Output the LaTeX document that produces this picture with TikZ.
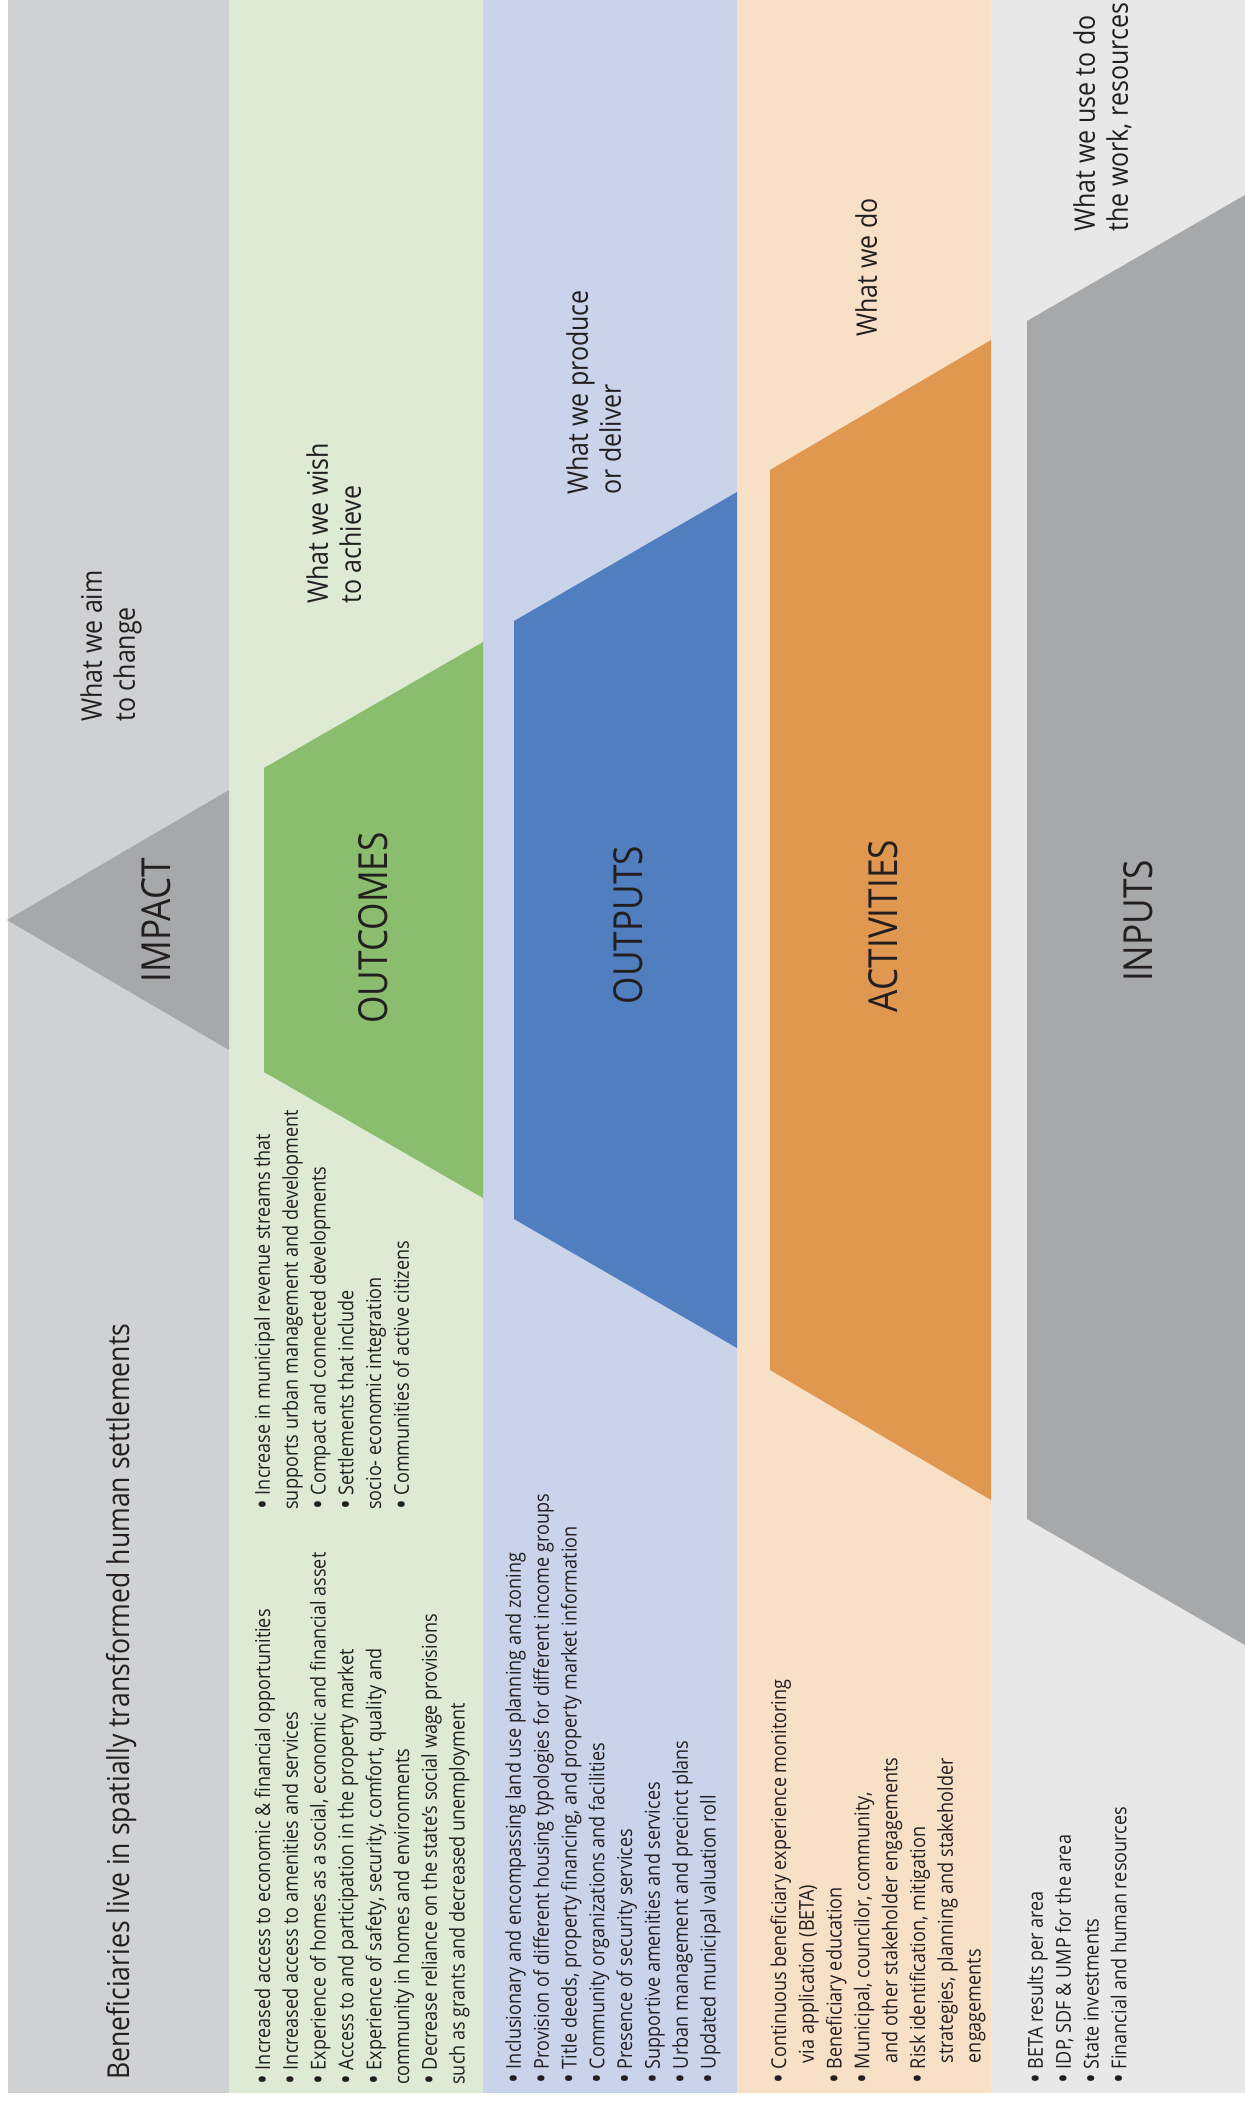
\documentclass[tikz,border=0pt]{standalone}
\usepackage{fontspec}
\setmainfont[FakeStretch=0.88]{Open Sans}

\definecolor{impactband}{HTML}{D0D1D3}
\definecolor{outcomeband}{HTML}{DEEAD4}
\definecolor{outputband}{HTML}{C9D4EB}
\definecolor{activityband}{HTML}{F7E0C6}
\definecolor{inputband}{HTML}{E8E8E8}
\definecolor{impactfill}{HTML}{A7A8AA}
\definecolor{outcomefill}{HTML}{8ABD6D}
\definecolor{outputfill}{HTML}{517EBF}
\definecolor{activityfill}{HTML}{E0974F}
\definecolor{inputfill}{HTML}{A7A8AA}
\definecolor{inktext}{HTML}{231F20}

\newcommand{\itembul}{\raisebox{-0.15em}{\scalebox{1.45}{\textbullet}}\ }

\tikzset{
			stage/.style={rotate=90, anchor=base, inner sep=0pt, text=inktext, font=\fontsize{20}{24}\selectfont},
			aim/.style={rotate=90, anchor=north west, align=left, inner sep=0pt, text=inktext, font=\fontsize{14.2}{16.5}\selectfont},
			items/.style={rotate=90, anchor=north west, align=left, inner sep=0pt, text=inktext, font=\fontsize{10.25}{13.9}\selectfont},
			goal/.style={rotate=90, anchor=base west, inner sep=0pt, text=inktext, font=\fontsize{15.1}{18}\selectfont}
		}

\begin{document}
\begin{tikzpicture}[x=0.5pt, y=-0.5pt]

			\useasboundingbox (0, 0) rectangle (1245, 2105);

			% Background bands
			\fill[impactband] (8, 0) rectangle (229, 2093);
			\fill[outcomeband] (229, 0) rectangle (483, 2093);
			\fill[outputband] (483, 0) rectangle (737, 2093);
			\fill[activityband] (737, 0) rectangle (991, 2093);
			\fill[inputband] (991, 0) rectangle (1245, 2093);

			% Funnel shapes
			\fill[impactfill] (7, 920) -- (229, 790) -- (229, 1050) -- cycle;
			\fill[outcomefill] (264, 768) -- (483, 642) -- (483, 1198) -- (264, 1072) -- cycle;
			\fill[outputfill] (514, 621) -- (737, 492) -- (737, 1348) -- (514, 1219) -- cycle;
			\fill[activityfill] (770, 470) -- (991, 340) -- (991, 1500) -- (770, 1370) -- cycle;
			\fill[inputfill] (1027, 321) -- (1245, 195) -- (1245, 1645) -- (1027, 1519) -- cycle;

			% Stage names
			\node[stage] (impact) at (170, 920) {IMPACT};
			\node[stage] (outcomes) at (387, 928) {OUTCOMES};
			\node[stage] (outputs) at (642, 925) {OUTPUTS};
			\node[stage] (activities) at (897, 926) {ACTIVITIES};
			\node[stage] (inputs) at (1152, 921) {INPUTS};

			% What each stage is about
			\node[aim] (aimimpact) at (80, 722) {What we aim\\to change};
			\node[aim] (aimoutcomes) at (306, 604) {What we wish\\to achieve};
			\node[aim] (aimoutputs) at (566, 495) {What we produce\\or deliver};
			\node[aim] (aimactivities) at (855, 337) {What we do};
			\node[aim] (aiminputs) at (1073, 232) {What we use to do\\the work, resources};

			% Impact statement
			\node[goal] (goal) at (129, 2080) {Beneficiaries live in spatially transformed human settlements};

			% Lists of items
			\node[items] (outcomelist) at (254, 2085) {%
				\itembul Increased access to economic \& financial opportunities\\
				\itembul Increased access to amenities and services\\
				\itembul Experience of homes as a social, economic and financial asset\\
				\itembul Access to and participation in the property market\\
				\itembul Experience of safety, security, comfort, quality and\\
				community in homes and environments\\
				\itembul Decrease reliance on the state’s social wage provisions\\
				such as grants and decreased unemployment};
			\node[items] (outcomelistb) at (254, 1510) {%
				\itembul Increase in municipal revenue streams that\\
				supports urban management and development\\
				\itembul Compact and connected developments\\
				\itembul Settlements that include\\
				socio- economic integration\\
				\itembul Communities of active citizens};
			\node[items] (outputlist) at (505, 2084) {%
				\itembul Inclusionary and encompassing land use planning and zoning\\
				\itembul Provision of different housing typologies for different income groups\\
				\itembul Title deeds, property financing, and property market information\\
				\itembul Community organizations and facilities\\
				\itembul Presence of security services\\
				\itembul Supportive amenities and services\\
				\itembul Urban management and precinct plans\\
				\itembul Updated municipal valuation roll};
			\node[items] (activitylist) at (770, 2084) {%
				\itembul Continuous beneficiary experience monitoring\\
				\hspace*{1em}via application (BETA)\\
				\itembul Beneficiary education\\
				\itembul Municipal, councilor, community,\\
				\hspace*{1em}and other stakeholder engagements\\
				\itembul Risk identification, mitigation\\
				\hspace*{1em}strategies, planning and stakeholder\\
				\hspace*{1em}engagements};
			\node[items] (inputlist) at (1027, 2084) {%
				\itembul BETA results per area\\
				\itembul IDP, SDF \& UMP for the area\\
				\itembul State investments\\
				\itembul Financial and human resources};

		\end{tikzpicture}
\end{document}
